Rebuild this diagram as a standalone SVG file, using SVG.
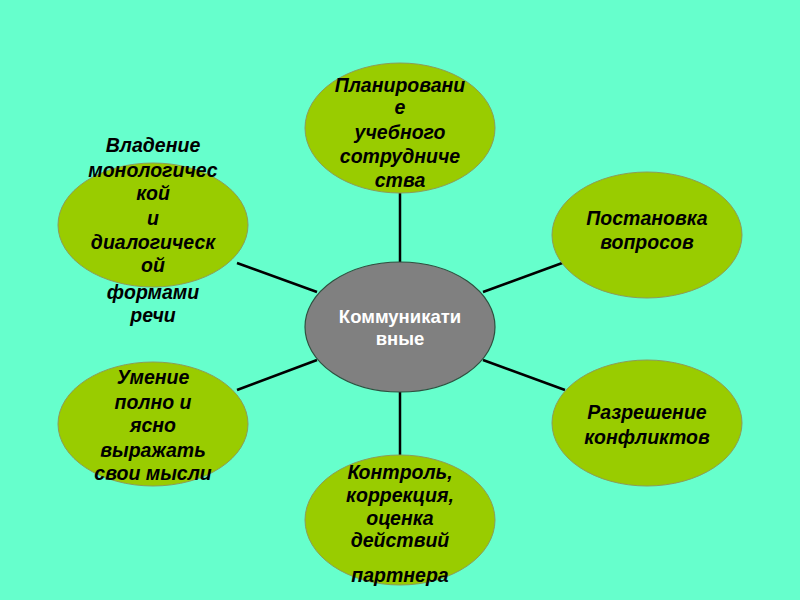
<svg xmlns="http://www.w3.org/2000/svg" width="800" height="600" viewBox="0 0 800 600">
<style>
.n{fill:#99CC00;stroke:#8C9C5A;stroke-width:1}
.c{fill:#808080;stroke:#2F4F3F;stroke-width:1.2}
.t{font-family:"Liberation Sans",Arial,sans-serif;font-weight:bold;font-style:italic;font-size:19.5px;fill:#000;text-anchor:middle}
.ct{font-family:"Liberation Sans",Arial,sans-serif;font-weight:bold;font-size:18.5px;fill:#fff;text-anchor:middle}
.l{stroke:#000;stroke-width:2.5;fill:none}
</style>
<rect width="800" height="600" fill="#66FFCC"/>
<g id="connectors">
<line class="l" x1="400" y1="193" x2="400" y2="262"/>
<line class="l" x1="237" y1="263" x2="317" y2="292"/>
<line class="l" x1="565" y1="262" x2="483" y2="292"/>
<line class="l" x1="237" y1="390" x2="317" y2="360"/>
<line class="l" x1="565" y1="390" x2="483" y2="360"/>
<line class="l" x1="400" y1="392" x2="400" y2="455"/>
</g>
<g id="center">
<ellipse class="c" cx="400" cy="327" rx="95" ry="65"/>
<text class="ct" x="400" y="323">Коммуникати</text>
<text class="ct" x="400" y="345">вные</text>
</g>
<g id="top">
<ellipse class="n" cx="400" cy="128" rx="95" ry="65"/>
<text class="t" x="400" y="92">Планировани</text>
<text class="t" x="400" y="114">е</text>
<text class="t" x="400" y="139">учебного</text>
<text class="t" x="400" y="163">сотрудниче</text>
<text class="t" x="400" y="187">ства</text>
</g>
<g id="left-top">
<ellipse class="n" cx="153" cy="225" rx="95" ry="62"/>
<text class="t" x="153" y="152">Владение</text>
<text class="t" x="153" y="177">монологичес</text>
<text class="t" x="153" y="200">кой</text>
<text class="t" x="153" y="225">и</text>
<text class="t" x="153" y="249">диалогическ</text>
<text class="t" x="153" y="272">ой</text>
<text class="t" x="153" y="299">формами</text>
<text class="t" x="153" y="322">речи</text>
</g>
<g id="right-top">
<ellipse class="n" cx="647" cy="235" rx="95" ry="63"/>
<text class="t" x="647" y="225">Постановка</text>
<text class="t" x="647" y="249">вопросов</text>
</g>
<g id="left-bottom">
<ellipse class="n" cx="153" cy="424" rx="95" ry="62"/>
<text class="t" x="153" y="384">Умение</text>
<text class="t" x="153" y="409">полно и</text>
<text class="t" x="153" y="432">ясно</text>
<text class="t" x="153" y="457">выражать</text>
<text class="t" x="153" y="480">свои мысли</text>
</g>
<g id="right-bottom">
<ellipse class="n" cx="647" cy="423" rx="95" ry="63"/>
<text class="t" x="647" y="419">Разрешение</text>
<text class="t" x="647" y="444">конфликтов</text>
</g>
<g id="bottom">
<ellipse class="n" cx="400" cy="520" rx="95" ry="65"/>
<text class="t" x="400" y="479">Контроль,</text>
<text class="t" x="400" y="502">коррекция,</text>
<text class="t" x="400" y="525">оценка</text>
<text class="t" x="400" y="547">действий</text>
<text class="t" x="400" y="582">партнера</text>
</g>
</svg>
